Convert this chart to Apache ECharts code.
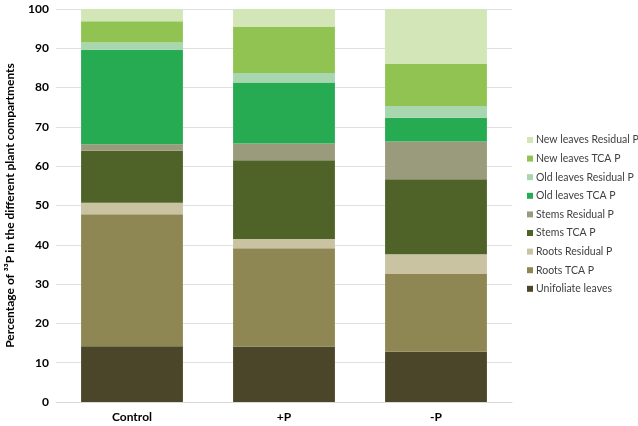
<!DOCTYPE html>
<html><head><meta charset="utf-8">
<script src="https://cdn.jsdelivr.net/npm/echarts@6/dist/echarts.min.js"></script>
<style>html,body{margin:0;padding:0;background:#fff}#c{width:638px;height:426px}</style>
</head><body><div id="c"></div>
<script>
const categories = ['Control', '+P', '-P'];
const seriesNames = ['Unifoliate leaves','Roots TCA P','Roots Residual P','Stems TCA P','Stems Residual P','Old leaves TCA P','Old leaves Residual P','New leaves TCA P','New leaves Residual P'];
const unifoliate = [14.2, 14.1, 12.8];
const rootsTCA = [33.6, 25.0, 19.8];
const rootsRes = [2.9, 2.4, 5.0];
const stemsTCA = [13.2, 20.0, 19.1];
const stemsRes = [1.7, 4.3, 9.6];
const oldTCA = [24.0, 15.5, 6.0];
const oldRes = [1.9, 2.4, 3.0];
const newTCA = [5.4, 11.7, 10.7];
const newRes = [3.1, 4.6, 14.0];
const yTicks = [0,10,20,30,40,50,60,70,80,90,100];
const colors = ['#4b4529','#8e8753','#c9c3a2','#4f6329','#9a9b7c','#27ab52','#a8d6ae','#91c353','#d2e6b7'];
const values = [unifoliate, rootsTCA, rootsRes, stemsTCA, stemsRes, oldTCA, oldRes, newTCA, newRes];
const chart = echarts.init(document.getElementById('c'), null, {renderer:'canvas'});
chart.setOption({
  animation:false,
  grid:{left:56,right:126,top:9,bottom:24, containLabel:false, outerBoundsMode:'none'},
  legend:{
    orient:'vertical', left:522, top:129, itemWidth:6, itemHeight:6, itemGap:6.6,
    icon:'rect', data: seriesNames.slice().reverse(),
    textStyle:{fontFamily:'Lato', fontSize:10.5, lineHeight:12, color:'#404040', padding:[0,0,0,-2]}
  },
  xAxis:{type:'category', data:categories,
    axisLine:{lineStyle:{color:'#d9d9d9'}}, axisTick:{show:false},
    axisLabel:{fontFamily:'Lato', fontWeight:'bold', fontSize:12, color:'#000', margin:9}},
  yAxis:{type:'value', min:yTicks[0], max:yTicks[yTicks.length-1], interval:10,
    name:'Percentage of ³³P in the different plant compartments', nameLocation:'middle', nameGap:40,
    nameTextStyle:{fontFamily:'Lato', fontWeight:'bold', fontSize:12, color:'#000'},
    axisLine:{show:false}, axisTick:{show:false},
    splitLine:{lineStyle:{color:'#e0e0e0'}},
    axisLabel:{fontFamily:'Lato', fontWeight:'bold', fontSize:12, color:'#000', margin:7}},
  series: seriesNames.map((n,i)=>({name:n, type:'bar', stack:'a', barWidth:'67%', data:values[i], itemStyle:{color:colors[i]}}))
});
</script></body></html>
